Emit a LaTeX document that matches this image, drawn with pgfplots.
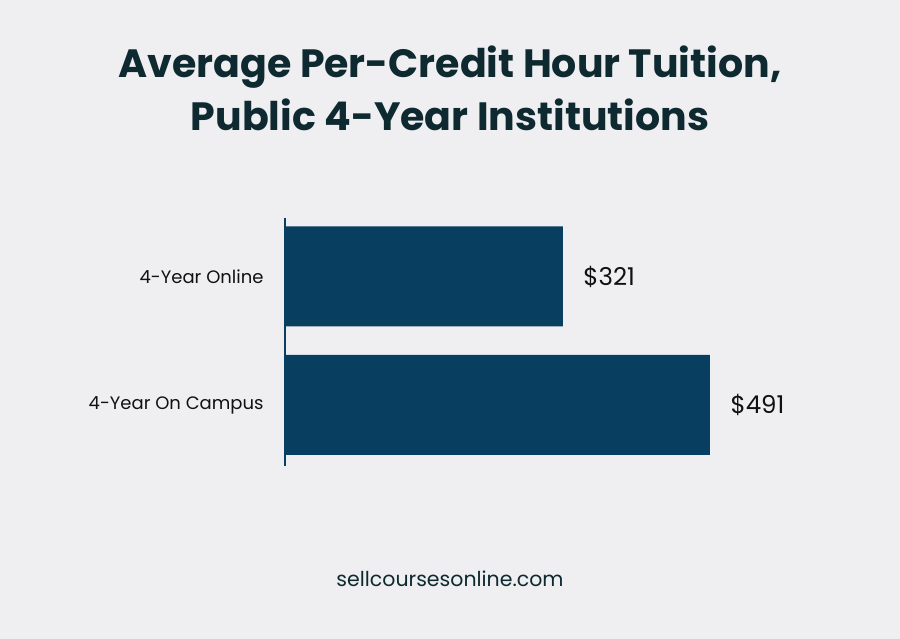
\documentclass[border=0pt]{standalone}
\usepackage{pgfplots}
\pgfplotsset{compat=1.18}
\usepackage{fontspec}
\setmainfont{Poppins}
\definecolor{bgc}{HTML}{EFEFF2}
\definecolor{barc}{HTML}{083F60}
\definecolor{titc}{HTML}{0E2A30}
\definecolor{txtc}{HTML}{111111}
\begin{document}
\begin{tikzpicture}[x=1pt,y=1pt]
\fill[bgc] (0,0) rectangle (900,639);
\node[font=\fontsize{39.5}{46}\selectfont\bfseries, text=titc] at (450,639-67) {Average Per-Credit Hour Tuition,};
\node[font=\fontsize{39.5}{46}\selectfont\bfseries, text=titc] at (450,639-115) {Public 4-Year Institutions};
\node[font=\fontsize{20.5}{24}\selectfont, text=titc] at (450,639-579) {sellcoursesonline.com};
\begin{axis}[
  at={(285pt,173pt)}, anchor=south west,
  scale only axis, width=515pt, height=248pt,
  xbar, bar width=0.778, bar shift=0pt,
  xmin=0, xmax=595, ymin=-0.475, ymax=1.455,
  axis x line=none,
  axis y line*=left,
  y axis line style={-, line width=2.5pt, color=barc},
  ytick={0,1}, yticklabels={4-Year On Campus,4-Year Online},
  yticklabel style={font=\fontsize{18}{21}\selectfont, text=txtc, xshift=-18pt},
  major tick length=0pt,
  clip=false,
  point meta=explicit symbolic,
  nodes near coords,
  nodes near coords style={font=\fontsize{24.5}{28}\selectfont, text=txtc, anchor=west, xshift=17pt},
]
\addplot[fill=barc, draw=none] coordinates {(491,0) [\$491] (321,1) [\$321]};
\end{axis}
\end{tikzpicture}
\end{document}
